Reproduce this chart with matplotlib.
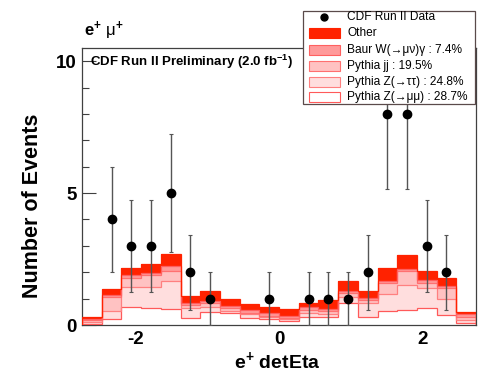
import numpy as np
import matplotlib
matplotlib.use("Agg")
import matplotlib.pyplot as plt
from matplotlib.patches import Rectangle
from matplotlib.lines import Line2D

plt.rcParams['font.family'] = ['Liberation Sans', 'DejaVu Sans']
plt.rcParams['mathtext.fontset'] = 'custom'
plt.rcParams['mathtext.rm'] = 'Liberation Sans'
plt.rcParams['mathtext.bf'] = 'Liberation Sans:bold'
plt.rcParams['mathtext.it'] = 'Liberation Sans:italic'

# ---- data ----
n_bins = 20
x_range = (-2.75, 2.75)

zmumu = [0.05, 0.22, 0.67, 0.63, 0.60, 0.25, 0.48, 0.44, 0.25, 0.21,
         0.14, 0.32, 0.30, 0.82, 0.29, 0.52, 0.56, 0.63, 0.38, 0.09]
ztautau = [0.08, 0.31, 0.76, 0.82, 1.06, 0.38, 0.21, 0.10, 0.15, 0.08,
           0.07, 0.15, 0.12, 0.25, 0.53, 0.64, 0.96, 0.78, 0.59, 0.10]
pythia_jj = [0.05, 0.54, 0.34, 0.44, 0.40, 0.11, 0.13, 0.09, 0.07, 0.06,
             0.06, 0.10, 0.10, 0.13, 0.13, 0.42, 0.53, 0.19, 0.42, 0.13]
baur_wg = [0.05, 0.05, 0.12, 0.09, 0.19, 0.08, 0.10, 0.09, 0.08, 0.09,
           0.07, 0.10, 0.10, 0.10, 0.06, 0.08, 0.08, 0.12, 0.10, 0.10]
other = [0.08, 0.26, 0.26, 0.32, 0.43, 0.28, 0.35, 0.26, 0.25, 0.25,
         0.25, 0.15, 0.33, 0.38, 0.29, 0.49, 0.52, 0.34, 0.28, 0.06]
data_counts = [0, 4, 3, 3, 5, 2, 1, 0, 0, 1,
               0, 1, 1, 1, 2, 8, 8, 3, 2, 0]

layer_labels = ["Pythia Z(\u2192\u03bc\u03bc) : 28.7%",
                "Pythia Z(\u2192\u03c4\u03c4) : 24.8%",
                "Pythia jj : 19.5%",
                "Baur W(\u2192\u03bc\u03bd)\u03b3 : 7.4%",
                "Other"]
data_label = "CDF Run II Data"
layer_colors = ['#ffffff', '#ffdede', '#ffc2c2', '#ff9a9a', '#ff2200']
layer_edges = ['#ff5a5a', '#ff8080', '#ff7070', '#ff6060', '#ff2200']

# ---- figure ----
W, H = 486, 377
fig = plt.figure(figsize=(W / 100, H / 100), dpi=100)
ax = fig.add_axes([82 / W, 1 - 325 / H, (476 - 82) / W, (325 - 48) / H])

edges = np.linspace(x_range[0], x_range[1], n_bins + 1)
centers = 0.5 * (edges[:-1] + edges[1:])
layers = [np.array(zmumu), np.array(ztautau), np.array(pythia_jj),
          np.array(baur_wg), np.array(other)]
cum = np.cumsum(layers, axis=0)

for i in range(len(layers)):
    base = cum[i - 1] if i > 0 else np.zeros(n_bins)
    ax.stairs(cum[i], edges, baseline=base, fill=True,
              facecolor=layer_colors[i], edgecolor='none', zorder=2)
for i in range(len(layers)):
    ax.stairs(cum[i], edges, baseline=0, fill=False,
              edgecolor=layer_edges[i], linewidth=0.9, zorder=3 + i * 0.01)

# data
dc = np.array(data_counts, dtype=float)
mask = dc > 0
ax.errorbar(centers[mask], dc[mask], yerr=np.sqrt(dc[mask]), fmt='o',
            color='black', markersize=6, ecolor='#555555', elinewidth=1.0,
            capsize=1.5, capthick=0.8, zorder=5, clip_on=True)

ax.set_xlim(*x_range)
ax.set_ylim(0, 10.5)
ax.set_xticks([-2, 0, 2])
ax.set_xticks(np.arange(-2.5, 2.75, 0.5), minor=True)
ax.set_yticks([0, 5, 10])
ax.set_yticks(np.arange(0, 11, 1), minor=True)
ax.tick_params(which='both', direction='in', top=False, right=False,
               color='#404040', width=0.8)
ax.tick_params(which='major', length=10, labelsize=13.5, pad=4)
ax.tick_params(which='minor', length=5)
ax.set_xticklabels(['-2', '0', '2'], fontweight='bold')
ax.set_yticklabels(['0', '5', '10'], fontweight='bold')
for s in ax.spines.values():
    s.set_color('#404040')
    s.set_linewidth(0.9)

fig.text(32 / W, 1 - 206 / H, 'Number of Events', rotation=90, fontsize=15.5,
         fontweight='bold', ha='center', va='center')
fig.text(277 / W, 1 - 361 / H, 'e$^{\\mathbf{+}}$ detEta', fontsize=14,
         fontweight='bold', ha='center', va='center')
fig.text(84 / W, 1 - 31 / H, 'e$^{\\mathbf{+}}$ $\\mathrm{\u03bc}^{\\mathbf{+}}$',
         fontsize=12, fontweight='bold', ha='left', va='center')
ax.text(90 / W, 1 - 62 / H, 'CDF Run II Preliminary (2.0 fb$^{\\mathbf{-1}}$)',
        transform=fig.transFigure, fontsize=9.5, fontweight='bold',
        ha='left', va='center', zorder=6)

# ---- legend (manual, ROOT style) ----
lx0, lx1, ly0, ly1 = 303, 475, 11, 104
fig.patches.append(Rectangle((lx0 / W, 1 - ly1 / H), (lx1 - lx0) / W,
                             (ly1 - ly0) / H, transform=fig.transFigure,
                             facecolor='white', edgecolor='#5a4a4a',
                             linewidth=0.9, zorder=10))
rows = [17, 33, 50, 66, 82, 97]
fig.lines.append(Line2D([324 / W], [1 - rows[0] / H], marker='o',
                        color='black', markersize=5, transform=fig.transFigure,
                        zorder=11))
fig.text(347 / W, 1 - rows[0] / H, data_label, fontsize=8.6,
         ha='left', va='center', zorder=11)
order = [4, 3, 2, 1, 0]
for r, li in zip(rows[1:], order):
    fig.patches.append(Rectangle((309 / W, 1 - (r + 5) / H), 31 / W, 10 / H,
                                 transform=fig.transFigure,
                                 facecolor=layer_colors[li],
                                 edgecolor=layer_edges[li], linewidth=0.8,
                                 zorder=11))
    fig.text(347 / W, 1 - r / H, layer_labels[li], fontsize=8.6,
             ha='left', va='center', zorder=11)

fig.savefig('out.png', dpi=100)
